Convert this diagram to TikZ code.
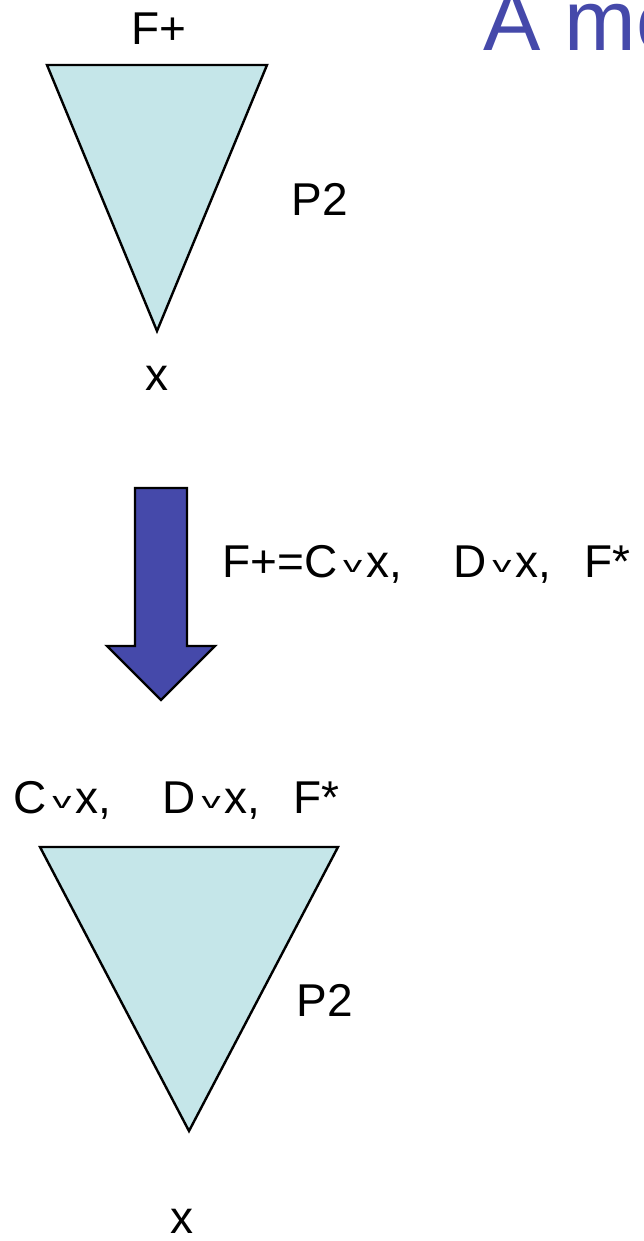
\documentclass[tikz,border=0pt]{standalone}
\usepackage{fontspec}
\setmainfont{Liberation Sans}
\usepackage{graphicx}
\definecolor{tri}{RGB}{197,230,233}
\definecolor{arr}{RGB}{69,73,170}
\newcommand{\orr}{\hspace{6pt}\raisebox{5pt}{\scalebox{1.6}[0.95]{\fontsize{24}{24}\selectfont v}}\hspace{4pt}}
\begin{document}
\begin{tikzpicture}[x=1pt,y=-1pt,
  lbl/.style={font=\fontsize{46}{46}\selectfont, inner sep=0pt, anchor=base},
  trishape/.style={draw=black, line width=2.4pt, fill=tri, line join=miter},
  arrshape/.style={draw=black, line width=2.4pt, fill=arr, line join=miter}]
\useasboundingbox (0,0) rectangle (644,1241);
\clip (0,0) rectangle (644,1241);
% title
\node[lbl, anchor=base west, text=arr, font=\fontsize{86}{86}\selectfont] (title) at (483,51) {A mo};
% top triangle
\draw[trishape] (47,65) coordinate (t1a) -- (267,65) coordinate (t1b) -- (157,331) coordinate (t1c) -- cycle;
\node[lbl] (fplus) at (159,45) {F+};
\node[lbl] (p2a) at (320,216) {P2};
\node[lbl] (xa) at (157,390) {x};
% arrow
\draw[arrshape] (135,488) -- (187,488) -- (187,646) -- (215,646) -- (161,700) -- (107,646) -- (135,646) -- cycle;
\node[lbl, anchor=base west] (rule) at (222,577) {F+=C\orr x,\hspace{51pt}D\orr x,\hspace{33pt}F*};
% bottom triangle
\node[lbl, anchor=base west] (cls) at (13,813) {C\orr x,\hspace{51pt}D\orr x,\hspace{33pt}F*};
\draw[trishape] (40,847) coordinate (t2a) -- (338,847) coordinate (t2b) -- (189,1131) coordinate (t2c) -- cycle;
\node[lbl] (p2b) at (325,1016) {P2};
\node[lbl] (xb) at (182,1233) {x};
\end{tikzpicture}
\end{document}
